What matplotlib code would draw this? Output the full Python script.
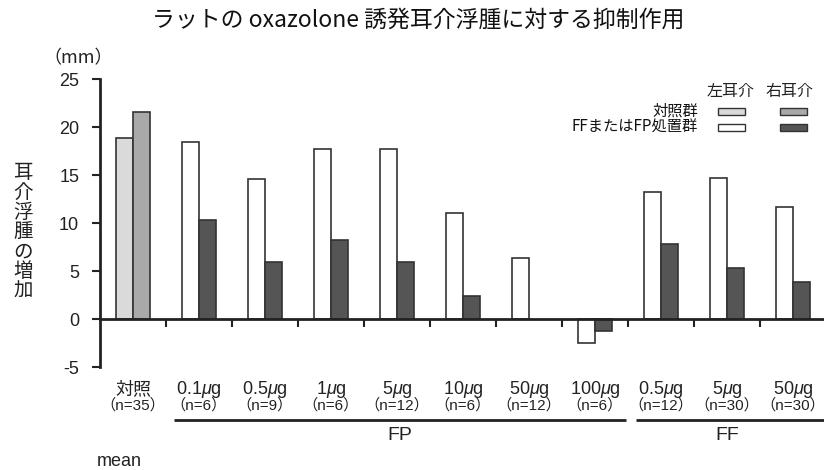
import numpy as np
import matplotlib
matplotlib.use("Agg")
import matplotlib.pyplot as plt
from matplotlib.patches import Rectangle
from matplotlib.transforms import blended_transform_factory

plt.rcParams['font.family'] = ['Liberation Sans', 'Noto Sans CJK JP', 'DejaVu Sans']
plt.rcParams['mathtext.fontset'] = 'custom'
plt.rcParams['mathtext.rm'] = 'Liberation Sans'
plt.rcParams['mathtext.it'] = 'Liberation Sans:italic'

# ---------------- data ----------------
doses = ["対照", r"0.1$\mu$g", r"0.5$\mu$g", r"1$\mu$g", r"5$\mu$g", r"10$\mu$g",
         r"50$\mu$g", r"100$\mu$g", r"0.5$\mu$g", r"5$\mu$g", r"50$\mu$g"]
n_labels = ["（n=35）", "（n=6）", "（n=9）", "（n=6）", "（n=12）", "（n=6）",
            "（n=12）", "（n=6）", "（n=12）", "（n=30）", "（n=30）"]
left_ear = [18.9, 18.4, 14.6, 17.7, 17.7, 11.0, 6.35, -2.45, 13.2, 14.7, 11.7]
right_ear = [21.6, 10.3, 5.9, 8.2, 5.9, 2.4, np.nan, -1.3, 7.8, 5.3, 3.85]
yticks = [-5, 0, 5, 10, 15, 20, 25]
title = "ラットの oxazolone 誘発耳介浮腫に対する抑制作用"
ylabel = "耳介浮腫の増加"
groups = [("FP", 1, 7), ("FF", 8, 10)]

# colours
c_ctrl_l = "#dadada"
c_ctrl_r = "#a9a9a9"
c_trt_l = "#ffffff"
c_trt_r = "#555555"
edge = "#333333"

W, H = 824, 470
fig = plt.figure(figsize=(W / 100, H / 100), dpi=100)

def fx(x):
    return x / W

def fy(y):
    return 1 - y / H

CJK = ['Noto Sans CJK JP', 'DejaVu Sans']

ax = fig.add_axes([fx(100), fy(367), 726 / W, (367 - 79) / H])

x = np.arange(len(doses))
bw = 0.265
lcol = [c_ctrl_l] + [c_trt_l] * (len(doses) - 1)
rcol = [c_ctrl_r] + [c_trt_r] * (len(doses) - 1)
ax.bar(x - bw / 2, left_ear, bw, color=lcol, edgecolor=edge, linewidth=1.2, zorder=2)
ax.bar(x + bw / 2, right_ear, bw, color=rcol, edgecolor=edge, linewidth=1.2, zorder=2)

ax.set_xlim(-0.5, 10.5)
ax.set_ylim(-5, 25)
ax.set_yticks(yticks)
ax.set_yticklabels([str(v) for v in yticks], fontsize=13, color="#222222")
ax.tick_params(axis='y', direction='out', length=6, width=1.5, pad=9, colors="#222222")

ax.spines['top'].set_visible(False)
ax.spines['right'].set_visible(False)
ax.spines['bottom'].set_position(('data', 0))
ax.spines['bottom'].set_linewidth(2)
ax.spines['left'].set_linewidth(2)
ax.spines['bottom'].set_color("#222222")
ax.spines['left'].set_color("#222222")
ax.set_xticks(np.arange(0.5, 10, 1.0))
ax.set_xticklabels([])
ax.tick_params(axis='x', direction='out', length=6, width=1.5, colors="#222222")

tr = blended_transform_factory(ax.transData, fig.transFigure)
for i in range(len(doses)):
    ax.text(i, fy(394), doses[i], transform=tr, ha='center', va='baseline',
            fontsize=13, color="#222222")
    ax.text(i, fy(410), n_labels[i], transform=tr, ha='center', va='baseline',
            fontsize=11, color="#222222",
            family=['Liberation Sans', 'Noto Sans CJK JP'])

for name, a, b in groups:
    ax.plot([a - 0.38, b + 0.47], [fy(420), fy(420)], transform=tr, color="#222222",
            lw=2, clip_on=False, solid_capstyle='butt')
    ax.text((a + b) / 2 + (0.05 if name == "FP" else 0), fy(436), name, transform=tr,
            ha='center', va='center', fontsize=14, color="#222222")

fig.text(fx(97), fy(462), "mean", ha='left', va='center', fontsize=13, color="#222222")
fig.text(fx(78), fy(58), "（mm）", ha='center', va='center', fontsize=13, color="#222222",
         family=CJK)
fig.text(fx(23), fy(232), "\n".join(ylabel), ha='center', va='center', fontsize=14,
         linespacing=0.92, color="#222222", family=CJK)
fig.text(fx(418), fy(20), title, ha='center', va='center', fontsize=16.5,
         family=CJK, color="#111111")

# legend
fig.text(fx(731), fy(91), "左耳介", ha='center', va='center', fontsize=11.5,
         family=CJK, color="#222222")
fig.text(fx(790), fy(91), "右耳介", ha='center', va='center', fontsize=11.5,
         family=CJK, color="#222222")
rows = [("対照群", c_ctrl_l, c_ctrl_r, 111.5), ("FFまたはFP処置群", c_trt_l, c_trt_r, 127.5)]
for lab, cl, cr, yc in rows:
    fig.text(fx(698), fy(yc), lab, ha='right', va='center', fontsize=11,
             color="#111111", family=CJK)
    for xc, c in ((731, cl), (793, cr)):
        fig.add_artist(Rectangle((fx(xc - 13.5), fy(yc + 3.5)), 27 / W, 7 / H,
                                 transform=fig.transFigure, facecolor=c,
                                 edgecolor=edge, linewidth=1.0))

fig.savefig("out.png", dpi=100)
